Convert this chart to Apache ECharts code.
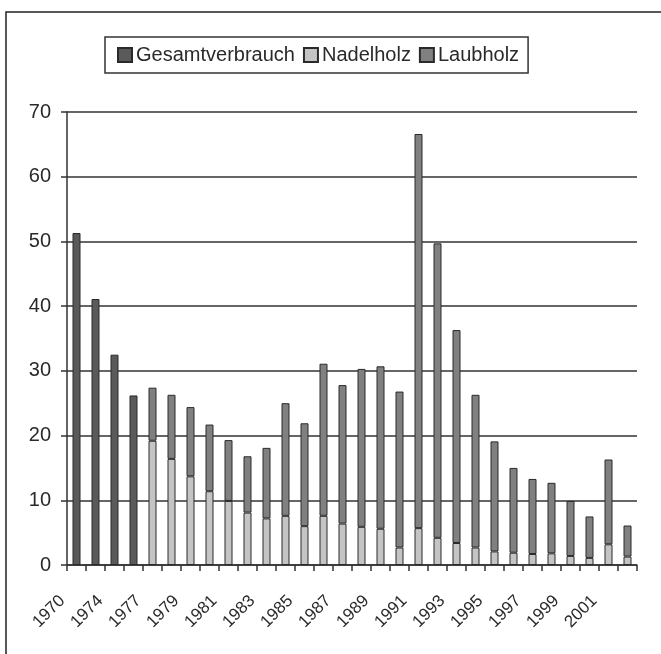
<!DOCTYPE html>
<html>
<head>
<meta charset="utf-8">
<script src="https://cdn.jsdelivr.net/npm/echarts@6/dist/echarts.min.js"></script>
<style>
html,body{margin:0;padding:0;background:#fff;}
#chart{width:661px;height:654px;}
</style>
</head>
<body>
<div id="chart"></div>
<script>
// Categories (years)
var years = ['1970','1972','1974','1976','1977','1978','1979','1980','1981','1982','1983','1984','1985','1986','1987','1988','1989','1990','1991','1992','1993','1994','1995','1996','1997','1998','1999','2000','2001','2002'];
// Gesamtverbrauch (only early years)
var gesamt = [51.3, 41.1, 32.5, 26.2, null, null, null, null, null, null, null, null, null, null, null, null, null, null, null, null, null, null, null, null, null, null, null, null, null, null];
// Nadelholz
var nadel = [null, null, null, null, 19.2, 16.4, 13.7, 11.4, 9.9, 8.1, 7.2, 7.6, 6.0, 7.6, 6.4, 5.9, 5.6, 2.7, 5.7, 4.2, 3.4, 2.7, 2.1, 1.9, 1.7, 1.8, 1.4, 1.1, 3.2, 1.3];
// Laubholz
var laub = [null, null, null, null, 8.2, 9.9, 10.7, 10.3, 9.4, 8.7, 10.9, 17.4, 15.9, 23.5, 21.4, 24.4, 25.1, 24.1, 60.9, 45.5, 32.9, 23.6, 17.0, 13.1, 11.6, 10.9, 8.5, 6.4, 13.1, 4.8];
// Y ticks
var yMin = 0, yMax = 70, yStep = 10;

var FONT = "'Liberation Sans', Arial, sans-serif";
var TXT = '#2a2a2a';
var LINE = '#333333';

var chart = echarts.init(document.getElementById('chart'), null, {renderer:'canvas'});
function barSeries(name, data, color){
  return {
    name: name, type: 'bar', stack: 'total', data: data,
    barWidth: 8,
    itemStyle: {color: color, borderColor: '#2a2a2a', borderWidth: 1},
    emphasis: {disabled: true},
    animation: false
  };
}
chart.setOption({
  animation: false,
  backgroundColor: '#ffffff',
  textStyle: {fontFamily: FONT},
  graphic: [{
    type: 'rect', silent: true,
    shape: {x: 6, y: 12, width: 700, height: 700},
    style: {fill: 'none', stroke: '#222', lineWidth: 1.5}
  }],
  legend: {
    left: 105, top: 37,
    orient: 'horizontal',
    itemWidth: 14, itemHeight: 14, itemGap: 8,
    padding: [8, 9, 8, 12],
    borderColor: '#333', borderWidth: 1.5,
    icon: 'rect',
    textStyle: {fontSize: 20, color: TXT, fontFamily: FONT, padding: [0, 0, 0, -1]},
    data: ['Gesamtverbrauch', 'Nadelholz', 'Laubholz']
  },
  grid: {left: 67, right: 24, top: 112, bottom: 89, containLabel: false},
  xAxis: {
    type: 'category', data: years, boundaryGap: true,
    axisLine: {show: true, lineStyle: {color: LINE, width: 1.5}},
    axisTick: {show: true, interval: 0, length: 6, lineStyle: {color: LINE, width: 1.5}},
    axisLabel: {interval: 1, rotate: 45, margin: 19, padding: [0, 20, 0, 0],
      fontSize: 17, color: TXT, fontFamily: FONT},
    splitLine: {show: false}
  },
  yAxis: {
    type: 'value', min: yMin, max: yMax, interval: yStep,
    axisLine: {show: true, lineStyle: {color: LINE, width: 1.5}},
    axisTick: {show: true, length: 6, lineStyle: {color: LINE, width: 1.5}},
    axisLabel: {margin: 16, fontSize: 20, color: TXT, fontFamily: FONT},
    splitLine: {show: true, lineStyle: {color: LINE, width: 1.5}}
  },
  series: [
    barSeries('Gesamtverbrauch', gesamt, '#5a5a5a'),
    barSeries('Nadelholz', nadel, '#c4c4c4'),
    barSeries('Laubholz', laub, '#808080')
  ]
});
</script>
</body>
</html>
